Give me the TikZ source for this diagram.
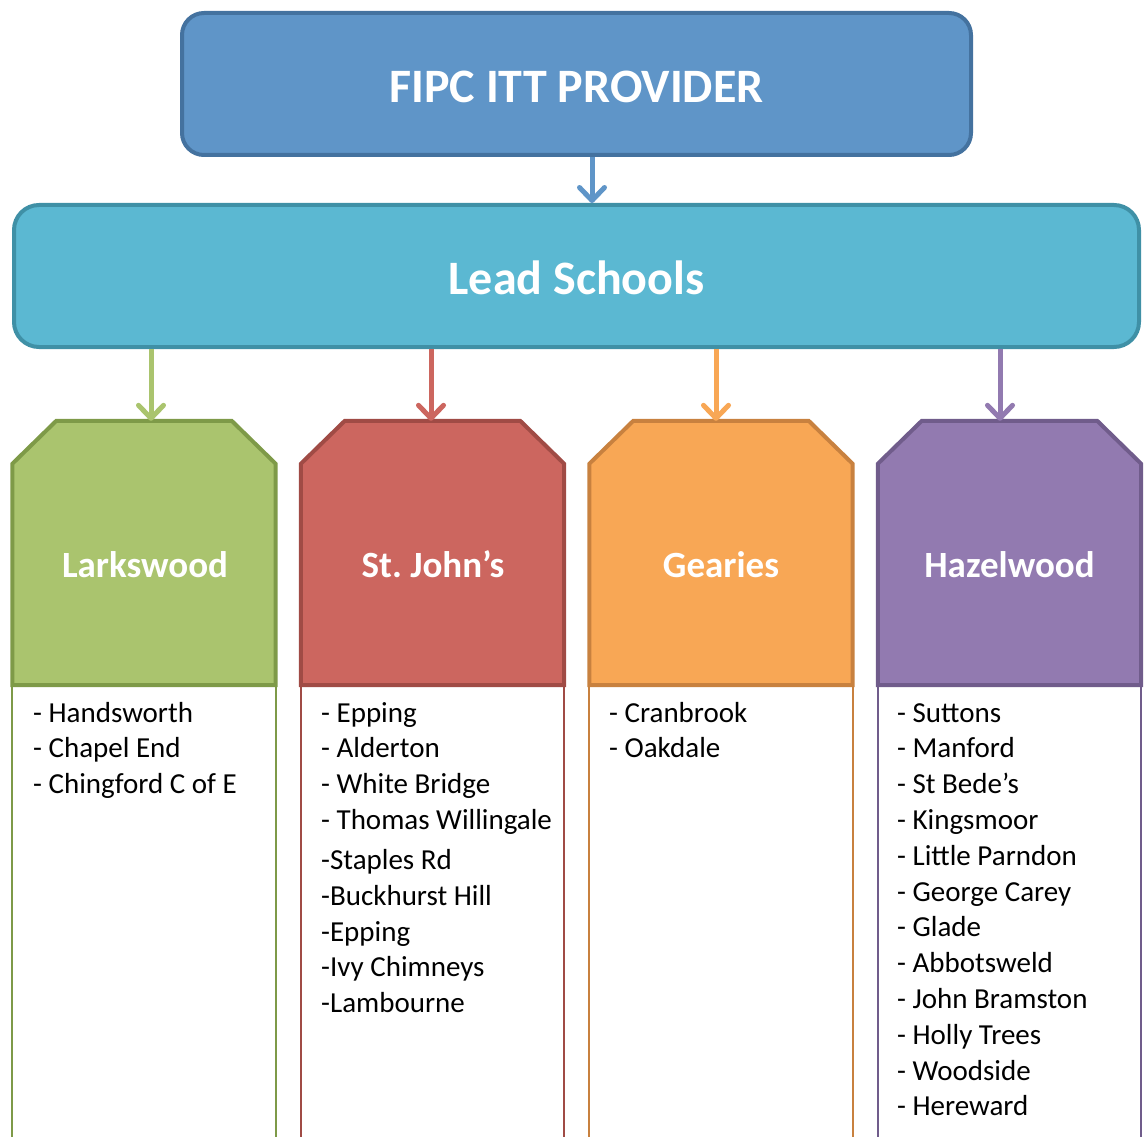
\documentclass[tikz,border=0pt]{standalone}
\usepackage{fontspec}
\setmainfont{Carlito}
\usetikzlibrary{arrows.meta,calc}
\definecolor{topfill}{HTML}{5F95C8}
\definecolor{topline}{HTML}{44729F}
\definecolor{leadfill}{HTML}{5BB8D2}
\definecolor{leadline}{HTML}{3F90A6}
\definecolor{gfill}{HTML}{AAC46E}
\definecolor{gline}{HTML}{7E9A48}
\definecolor{rfill}{HTML}{CC665F}
\definecolor{rline}{HTML}{A04B45}
\definecolor{ofill}{HTML}{F8A755}
\definecolor{oline}{HTML}{C8813F}
\definecolor{pfill}{HTML}{927AB0}
\definecolor{pline}{HTML}{705C8B}
\newcommand{\octshape}[3]{%
  \filldraw[fill=#2, draw=#3, line width=4pt, line join=miter]
    (#1.south west) -- ($(#1.north west)+(0,43)$) -- ($(#1.north west)+(44,0)$)
    -- ($(#1.north east)+(-44,0)$) -- ($(#1.north east)+(0,43)$)
    -- (#1.south east) -- cycle;}
\newcommand{\lowertext}[2]{\raisebox{-#1}[\height][\depth]{#2}}
\begin{document}
\begin{tikzpicture}[x=1pt,y=-1pt,
  headbox/.style={draw, line width=4pt, text=white, inner sep=0pt,
    font=\bfseries\fontsize{48}{56}\selectfont},
  octbox/.style={minimum width=263pt, minimum height=264pt, inner sep=0pt},
  octlabel/.style={anchor=base, text=white, inner sep=0pt,
    font=\bfseries\fontsize{37}{44}\selectfont},
  listtext/.style={anchor=base west, inner sep=0pt,
    font=\fontsize{29}{35.8}\selectfont},
  listline/.style={line width=2pt},
  arr/.style={line width=5pt,
    -{Straight Barb[length=13pt, width=25pt, round]}}
]
\useasboundingbox (0,0) rectangle (1144,1137);

% header boxes
\node[headbox, fill=topfill, draw=topline, rounded corners=22pt,
      minimum width=789pt, minimum height=142pt] (top) at (576.5,84)
      {\lowertext{2.5pt}{FIPC ITT PROVIDER}};
\node[headbox, fill=leadfill, draw=leadline, rounded corners=25pt,
      minimum width=1125pt, minimum height=142pt] (lead) at (576.5,276)
      {\lowertext{1.5pt}{Lead Schools}};

% column frames
\node[octbox] (lark) at (144,553) {};
\node[octbox] (john) at (432.5,553) {};
\node[octbox] (gear) at (721,553) {};
\node[octbox] (haze) at (1009.5,553) {};

\octshape{lark}{gfill}{gline}
\octshape{john}{rfill}{rline}
\octshape{gear}{ofill}{oline}
\octshape{haze}{pfill}{pline}

\coordinate (bot) at (0,1137);
\foreach \n/\c in {lark/gline, john/rline, gear/oline, haze/pline}{
  \draw[listline, draw=\c] (\n.south west) -- (\n.south west |- bot);
  \draw[listline, draw=\c] (\n.south east) -- (\n.south east |- bot);
}

% column titles
\node[octlabel] (larkL) at ($(lark.center)+(1,24)$) {Larkswood};
\node[octlabel] (johnL) at ($(john.center)+(0.5,24)$) {St.\ John’s};
\node[octlabel] (gearL) at ($(gear.center)+(0,24)$) {Gearies};
\node[octlabel] (hazeL) at ($(haze.center)+(0,24)$) {Hazelwood};

% lists
\node[listtext] (larkList) at (33,722) {\begin{tabular}[t]{@{}l@{}}
- Handsworth\\
- Chapel End\\
- Chingford C of E
\end{tabular}};
\node[listtext] (johnList) at (321,722) {\begin{tabular}[t]{@{}l@{}}
- Epping\\
- Alderton\\
- White Bridge\\
- Thomas Willingale\\[4.2pt]
-Staples Rd\\
-Buckhurst Hill\\
-Epping\\
-Ivy Chimneys\\
-Lambourne
\end{tabular}};
\node[listtext] (gearList) at (609,722) {\begin{tabular}[t]{@{}l@{}}
- Cranbrook\\
- Oakdale
\end{tabular}};
\node[listtext] (hazeList) at (897,722) {\begin{tabular}[t]{@{}l@{}}
- Suttons\\
- Manford\\
- St Bede’s\\
- Kingsmoor\\
- Little Parndon\\
- George Carey\\
- Glade\\
- Abbotsweld\\
- John Bramston\\
- Holly Trees\\
- Woodside\\
- Hereward
\end{tabular}};

% connectors
\coordinate (tb) at (592,0);
\coordinate (t1) at (151,0);
\coordinate (t2) at (431,0);
\coordinate (t3) at (716,0);
\coordinate (t4) at (1000,0);
\draw[arr, draw=topfill] (top.south -| tb) -- (lead.north -| tb);
\draw[arr, draw=gfill] (lead.south -| t1) -- (lark.north -| t1);
\draw[arr, draw=rfill] (lead.south -| t2) -- (john.north -| t2);
\draw[arr, draw=ofill] (lead.south -| t3) -- (gear.north -| t3);
\draw[arr, draw=pfill] (lead.south -| t4) -- (haze.north -| t4);
\end{tikzpicture}
\end{document}
